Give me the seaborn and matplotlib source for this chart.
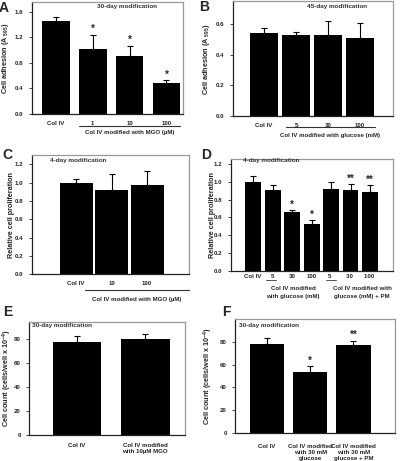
import numpy as np
import pandas as pd
import matplotlib
matplotlib.use("Agg")
import matplotlib.pyplot as plt
from matplotlib.lines import Line2D
import seaborn as sns

sns.set_theme(style="white")
plt.rcParams['font.family'] = ['Liberation Sans', 'DejaVu Sans']
plt.rcParams['font.weight'] = 'bold'
plt.rcParams['mathtext.default'] = 'regular'

# ---------------- data ----------------
a_cats = ["Col IV", "1", "10", "100"]
a_vals = [1.45, 1.02, 0.90, 0.49]
a_errs = [0.07, 0.22, 0.17, 0.04]
a_sig = ["", "*", "*", "*"]

b_cats = ["Col IV", "5", "30", "100"]
b_vals = [0.545, 0.53, 0.53, 0.51]
b_errs = [0.03, 0.02, 0.09, 0.095]
b_sig = ["", "", "", ""]

c_cats = ["Col IV", "10", "100"]
c_vals = [1.00, 0.92, 0.97]
c_errs = [0.04, 0.17, 0.155]
c_sig = ["", "", ""]

d_cats = ["Col IV", "5", "30", "100", "5 ", "30 ", "100 "]
d_vals = [1.00, 0.91, 0.66, 0.53, 0.92, 0.905, 0.89]
d_errs = [0.07, 0.05, 0.02, 0.035, 0.075, 0.07, 0.07]
d_sig = ["", "", "*", "*", "", "**", "**"]

e_cats = ["Col IV", "Col IV modified\nwith 10\u00b5M MGO"]
e_vals = [78.0, 80.5]
e_errs = [5.0, 3.5]
e_sig = ["", ""]

f_cats = ["Col IV", "Col IV modified\nwith 30 mM\nglucose", "Col IV modified\nwith 30 mM\nglucose + PM"]
f_vals = [78.0, 53.5, 77.5]
f_errs = [5.0, 5.0, 3.5]
f_sig = ["", "*", "**"]

W, H = 400, 461
fig = plt.figure(figsize=(W / 100, H / 100), dpi=100)

def fx(x):
    return x / W

def fy(y):
    return 1 - y / H

FS = 4.4

def make_ax(l, t, r, b):
    ax = fig.add_axes([fx(l), fy(b), (r - l) / W, (b - t) / H])
    ax._px = (l, r)
    return ax

def panel(ax, cats, vals, errs, sig, ylim, yticks, yfmt, xlim, width, ylabel, ylabel_x,
          note, note_xy, note_ha):
    df = pd.DataFrame({"cat": cats, "val": vals})
    sns.barplot(data=df, x="cat", y="val", color="black", width=width, ax=ax,
                saturation=1, errorbar=None, edgecolor="black", linewidth=0)
    xs = np.arange(len(cats))
    ax.errorbar(xs, vals, yerr=[np.zeros(len(vals)), errs], fmt="none",
                ecolor="black", elinewidth=0.8, capsize=2.2, capthick=0.8)
    for x, v, e, s in zip(xs, vals, errs, sig):
        if s:
            ax.annotate(s, (x, v + e), xytext=(0, 0.5), textcoords="offset points",
                        ha="center", va="bottom", fontsize=7, fontweight="bold")
    ax.set_ylim(*ylim)
    ax.set_xlim(*xlim)
    ax.set_yticks(yticks)
    ax.set_yticklabels([yfmt.format(t) for t in yticks], fontsize=FS, fontweight="bold")
    ax.tick_params(axis="y", length=2, width=0.6, pad=4, left=True, colors="#222222")
    ax.tick_params(axis="x", length=0, pad=5, labelsize=FS, colors="#222222")
    for lab in ax.get_xticklabels():
        lab.set_fontweight("bold")
    ax.set_xlabel("")
    ax.set_ylabel(ylabel, fontsize=5.2, fontweight="bold")
    l, r = ax._px
    ax.yaxis.set_label_coords((ylabel_x - l) / (r - l), 0.5)
    ax.yaxis.label.set_va("center")
    for side in ["left", "bottom"]:
        ax.spines[side].set_color("#222222")
        ax.spines[side].set_linewidth(0.9)
    for side in ["top", "right"]:
        ax.spines[side].set_color("#999999")
        ax.spines[side].set_linewidth(0.9)
    fig.text(fx(note_xy[0]), fy(note_xy[1]), note, fontsize=4.6, fontweight="bold",
             color="#333333", ha=note_ha, va="center")

def hline(x0, x1, y, color="#333333", lw=0.8):
    fig.add_artist(Line2D([fx(x0), fx(x1)], [fy(y), fy(y)], color=color, lw=lw))

def ftext(x, y, s, fs=FS, ha="center", va="center", **kw):
    fig.text(fx(x), fy(y), s, fontsize=fs, fontweight="bold", ha=ha, va=va, **kw)

# Panel A
axA = make_ax(32, 1.7, 183, 114)
panel(axA, a_cats, a_vals, a_errs, a_sig, (0, 1.755), [0, 0.4, 0.8, 1.2, 1.6], "{:.1f}",
      (-0.65, 3.45), 0.75, r"Cell adhesion (A $_{595}$)", 6,
      "30-day modification", (127, 6.5), "center")
hline(79, 180, 126)
ftext(130, 132.5, "Col IV modified with MGO (\u00b5M)")

# Panel B
axB = make_ax(233, 1.5, 393, 116)
panel(axB, b_cats, b_vals, b_errs, b_sig, (0, 0.748), [0, 0.2, 0.4, 0.6], "{:.1f}",
      (-0.97, 4.03), 0.87, r"Cell adhesion (A $_{595}$)", 206,
      "45-day modification", (337, 6.5), "center")
hline(286, 375, 127)
ftext(330, 135, "Col IV modified with glucose (mM)")

# Panel C
axC = make_ax(32, 155, 189, 274.3)
panel(axC, c_cats, c_vals, c_errs, c_sig, (0, 1.3), [0, 0.2, 0.4, 0.6, 0.8, 1.0, 1.2], "{:.1f}",
      (-1.24, 3.18), 0.93, "Relative cell proliferation", 12,
      "4-day modification", (50, 160), "left")
hline(85, 189, 290)
ftext(137, 299, "Col IV modified with MGO (\u00b5M)")

# Panel D
axD = make_ax(231, 159, 393, 270.7)
panel(axD, d_cats, d_vals, d_errs, d_sig, (0, 1.257), [0, 0.2, 0.4, 0.6, 0.8, 1.0, 1.2], "{:.1f}",
      (-1.13, 7.18), 0.82, "Relative cell proliferation", 212,
      "4-day modification", (243, 160), "left")
axD.tick_params(axis="x", pad=2.5)
hline(266, 276, 280, lw=0.6)
hline(326, 336, 280, lw=0.6)
ftext(293, 288, "Col IV modified")
ftext(293, 296, "with glucose (mM)")
ftext(362, 288, "Col IV modified with")
ftext(362, 296, "glucose (mM) + PM")

# Panel E
axE = make_ax(29, 322, 185, 435)
panel(axE, e_cats, e_vals, e_errs, e_sig, (0, 94.4), [0, 20, 40, 60, 80], "{:.0f}",
      (-0.7, 1.58), 0.71, r"Cell count (cells/well x 10$^{-4}$)", 7,
      "30-day modification", (32, 325), "left")
axE.tick_params(axis="x", pad=6)

# Panel F
axF = make_ax(235, 319, 395, 433)
panel(axF, f_cats, f_vals, f_errs, f_sig, (0, 100), [0, 20, 40, 60, 80], "{:.0f}",
      (-0.74, 2.96), 0.79, r"Cell count (cells/well x 10$^{-4}$)", 208,
      "30-day modification", (239, 325), "left")
axF.tick_params(axis="x", pad=8)

# Panel letters
for letter, (x, y) in {"A": (4, 8), "B": (204, 7), "C": (7, 155), "D": (206, 155),
                       "E": (8, 312), "F": (226, 312)}.items():
    fig.text(fx(x), fy(y), letter, fontsize=10, fontweight="bold", ha="center", va="center")

fig.savefig("out.png", dpi=100)
